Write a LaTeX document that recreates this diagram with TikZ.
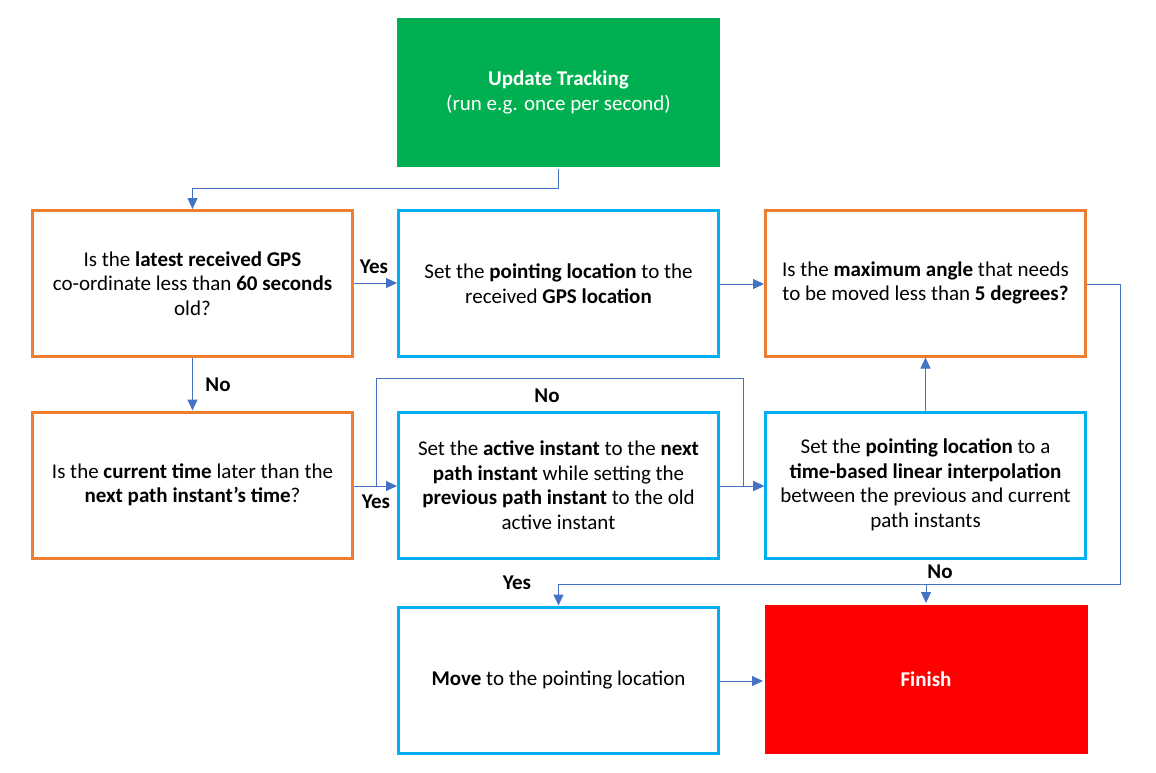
\documentclass[tikz,border=0pt]{standalone}
\usepackage{fontspec}
\setmainfont{Carlito}
\usetikzlibrary{arrows.meta}
\definecolor{cgreen}{HTML}{00B050}
\definecolor{corange}{HTML}{ED7D31}
\definecolor{ccyan}{HTML}{00B0F0}
\definecolor{cred}{HTML}{FF0000}
\definecolor{cline}{HTML}{4472C4}
\begin{document}
\begin{tikzpicture}[x=1pt,y=-1pt,
  box/.style={draw, line width=3pt, minimum width=320pt, minimum height=146pt, inner sep=0pt, align=center, font=\fontsize{21}{24.5}\selectfont},
  decbox/.style={box, draw=corange},
  actbox/.style={box, draw=ccyan},
  fillbox/.style={box, draw=none, minimum width=323pt, minimum height=149pt, text=white},
  conn/.style={draw=cline, line width=1pt, -{Triangle[length=11pt,width=10pt]}},
  lbl/.style={font=\fontsize{21}{24}\selectfont\bfseries, inner sep=0pt}]
\useasboundingbox (0,0) rectangle (1156,772);
\node[fillbox, fill=cgreen] (start) at (558.5,92.5) {\textbf{Update Tracking}\\(run e.g. once per second)};
\node[decbox] (gps) at (192.5,283.5) {Is the \textbf{latest received GPS}\\co-ordinate less than \textbf{60 seconds}\\old?};
\node[actbox] (setgps) at (558.5,283.5) {Set the \textbf{pointing location} to the\\received \textbf{GPS location}};
\node[decbox] (angle) at (925.5,283) {Is the \textbf{maximum angle} that needs\\to be moved less than \textbf{5 degrees?}};
\node[decbox] (time) at (192.5,485) {Is the \textbf{current time} later than the\\\textbf{next path instant’s time}?};
\node[actbox] (active) at (558.5,485) {Set the \textbf{active instant} to the \textbf{next}\\\textbf{path instant} while setting the\\\textbf{previous path instant} to the old\\active instant};
\node[actbox] (interp) at (925.5,485) {Set the \textbf{pointing location} to a\\\textbf{time-based linear interpolation}\\between the previous and current\\path instants};
\node[actbox] (move) at (558.5,680) {\textbf{Move} to the pointing location};
\node[fillbox, fill=cred] (finish) at (926,679) {\textbf{Finish}};
\coordinate (c1) at (558.5,188);
\coordinate (c2) at (192.5,188);
\coordinate (l1) at (376,486);
\coordinate (l2) at (376,378);
\coordinate (l3) at (743,378);
\coordinate (l4) at (743,486);
\coordinate (r1) at (1120,284);
\coordinate (r2) at (1120,584);
\coordinate (r3) at (926,584);
\coordinate (r4) at (558.5,584);
\draw[conn] (start.south) -- (c1) -- (c2) -- (gps.north);
\draw[conn] (gps.east |- 0,283) -- (setgps.west |- 0,283);
\draw[conn] (setgps.east |- 0,284) -- (angle.west |- 0,284);
\draw[conn] (gps.south) -- (time.north);
\draw[conn] (time.east |- 0,486) -- (active.west |- 0,486);
\draw[conn] (time.east |- 0,486) -- (l1) -- (l2) -- (l3) -- (l4) -- (interp.west |- 0,486);
\draw[conn] (active.east |- 0,486) -- (interp.west |- 0,486);
\draw[conn] (interp.north) -- (angle.south);
\draw[conn] (angle.east |- 0,284) -- (r1) -- (r2) -- (r3) -- (finish.north);
\draw[conn] (r3) -- (r4) -- (move.north);
\draw[conn] (move.east |- 0,681) -- (finish.west |- 0,681);
\node[lbl] (y1) at (374,267) {Yes};
\node[lbl] (n1) at (218,385) {No};
\node[lbl] (n2) at (547,396) {No};
\node[lbl] (y2) at (376,502) {Yes};
\node[lbl] (y3) at (517,583) {Yes};
\node[lbl] (n3) at (940,572) {No};
\end{tikzpicture}
\end{document}
